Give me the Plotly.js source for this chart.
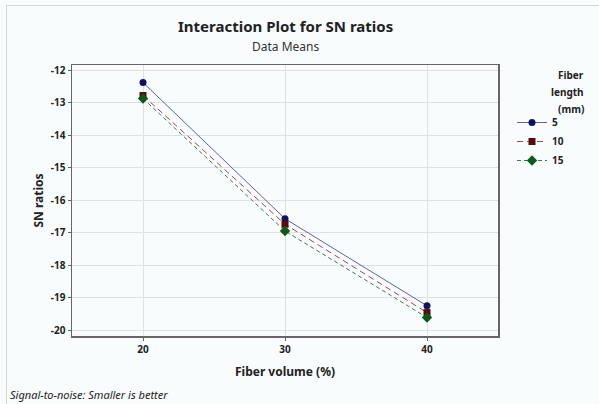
<!DOCTYPE html>
<html><head><meta charset="utf-8">
<script src="https://cdn.plot.ly/plotly-3.0.1.min.js"></script>
<style>
html,body{margin:0;padding:0;background:#f8fcfc;}
#wrap{position:relative;width:599px;height:404px;}
#chart{position:absolute;left:0;top:0;width:599px;height:404px;}
#frame{position:absolute;left:6px;top:5px;right:0;bottom:0;border-left:1px solid #d4d8da;border-top:1px solid #d4d8da;pointer-events:none;}
</style></head>
<body><div id="wrap"><div id="chart"></div><div id="frame"></div></div>
<script>
const fiberVolume = [20, 30, 40];
const len5 = [-12.38, -16.57, -19.25];
const len10 = [-12.78, -16.74, -19.46];
const len15 = [-12.87, -16.95, -19.61];
const seriesNames = ['5', '10', '15'];
const yTicks = [-12, -13, -14, -15, -16, -17, -18, -19, -20];
const xTicks = [20, 30, 40];
const legendTitle = ['Fiber', 'length', '(mm)'];

const F = 'Noto Sans, Open Sans, sans-serif';
const traces = [
  {x: fiberVolume, y: len5, name: seriesNames[0], mode: 'lines+markers',
   line: {color: '#5b62b0', width: 1, dash: 'solid'},
   marker: {symbol: 'circle', size: 7, color: '#101060'}},
  {x: fiberVolume, y: len10, name: seriesNames[1], mode: 'lines+markers',
   line: {color: '#9a4a4a', width: 1, dash: '6px,4px'},
   marker: {symbol: 'square', size: 7, color: '#5a0a0a'}},
  {x: fiberVolume, y: len15, name: seriesNames[2], mode: 'lines+markers',
   line: {color: '#3d7a45', width: 1, dash: '4px,3px'},
   marker: {symbol: 'diamond', size: 8, color: '#0d5a16'}}
];

const H = 271, W = 426;
const ann = [
  {text: 'Interaction Plot for SN ratios', xref: 'paper', yref: 'paper', x: 0.5, y: 1 + (65-26)/H,
   showarrow: false, font: {size: 15, family: F, color: '#222', weight: 'bold'}, xanchor: 'center', yanchor: 'middle'},
  {text: 'Data Means', xref: 'paper', yref: 'paper', x: 0.5, y: 1 + (65-46)/H,
   showarrow: false, font: {size: 12, family: F, color: '#333'}, xanchor: 'center', yanchor: 'middle'},
  {text: '<i>Signal-to-noise: Smaller is better</i>', xref: 'paper', yref: 'paper', x: (8-72)/W, y: -(394-336)/H,
   showarrow: false, xanchor: 'left', yanchor: 'middle', font: {size: 11, family: F, color: '#222'}}
];
const titleY = [75, 92, 109];
legendTitle.forEach((t, i) => ann.push({text: t, xref: 'paper', yref: 'paper', x: 1 + (586-498)/W,
  y: 1 - (titleY[i]-65)/H, showarrow: false, xanchor: 'right', yanchor: 'middle',
  font: {size: 10, family: F, color: '#222', weight: 'bold'}}));

const layout = {
  width: 599, height: 404,
  margin: {l: 72, r: 101, t: 65, b: 68},
  paper_bgcolor: 'rgba(0,0,0,0)', plot_bgcolor: '#f8fcfc',
  font: {family: F, color: '#222'},
  showlegend: true,
  legend: {x: 1 + (512-498)/W, y: 1 - (108-65)/H, xanchor: 'left', yanchor: 'top', bgcolor: 'rgba(0,0,0,0)',
           font: {size: 10, family: F, color: '#222', weight: 'bold'}, itemwidth: 30, tracegroupgap: 0},
  xaxis: {range: [15, 45], tickvals: xTicks, ticktext: xTicks.map(String),
          showgrid: true, gridcolor: '#dde1e5', gridwidth: 1, zeroline: false,
          showline: true, linecolor: '#666', linewidth: 1.5, mirror: true,
          ticks: 'outside', ticklen: 3, tickcolor: '#666',
          tickfont: {size: 10, family: F, color: '#222', weight: 'bold'},
          title: {text: 'Fiber volume (%)', font: {size: 12, family: F, color: '#222', weight: 'bold'}, standoff: 13}},
  yaxis: {range: [-20.18, -11.84], tickvals: yTicks, ticktext: yTicks.map(v => String(v)),
          showgrid: true, gridcolor: '#dde1e5', gridwidth: 1, zeroline: false,
          showline: true, linecolor: '#666', linewidth: 1.5, mirror: true,
          ticks: 'outside', ticklen: 3, tickcolor: '#666',
          tickfont: {size: 10, family: F, color: '#222', weight: 'bold'},
          title: {text: 'SN ratios', font: {size: 12, family: F, color: '#222', weight: 'bold'}, standoff: 4}},
  annotations: ann
};
Plotly.newPlot('chart', traces, layout, {displayModeBar: false, staticPlot: true});
</script></body></html>
